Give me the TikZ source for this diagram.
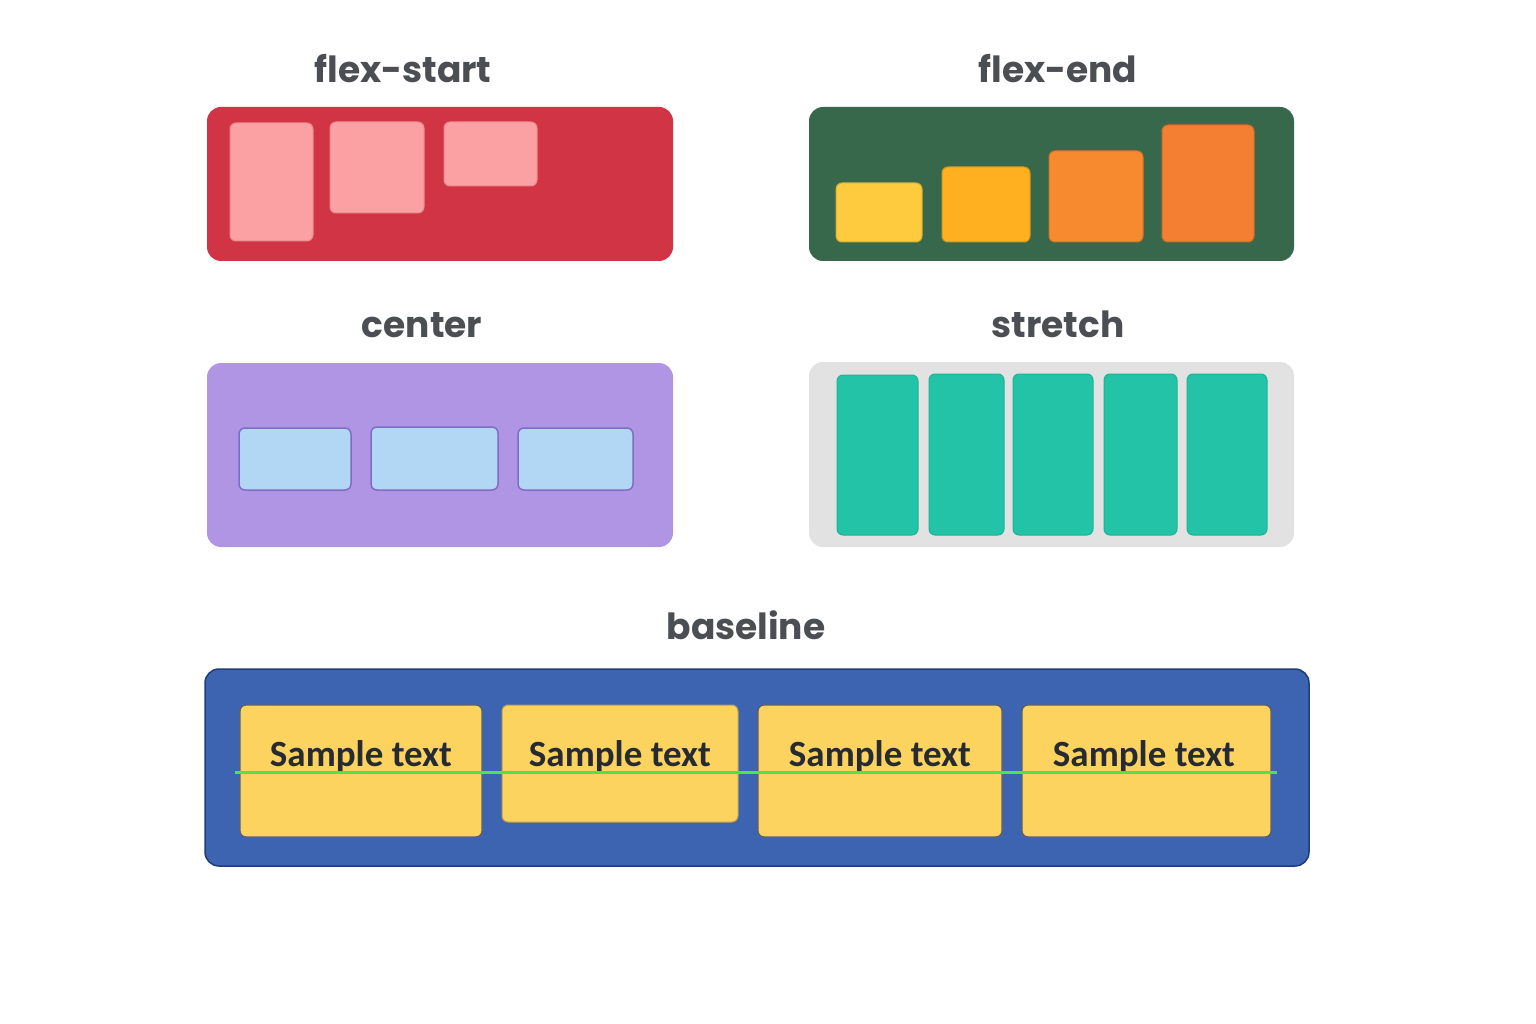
\documentclass[tikz,border=0pt]{standalone}
\usepackage{fontspec}
\setmainfont{Poppins}[BoldFont={* Bold}]
\newfontfamily\samplefont{Carlito}
\usetikzlibrary{fit}
\definecolor{titlegray}{HTML}{4B4E53}
\definecolor{redpanel}{HTML}{D13445}
\definecolor{pinkitem}{HTML}{FCA1A3}
\definecolor{pinkedge}{HTML}{E88A8E}
\definecolor{greenpanel}{HTML}{38684C}
\definecolor{yel1}{HTML}{FECB3E}
\definecolor{yel2}{HTML}{FEB020}
\definecolor{ora1}{HTML}{F78A2E}
\definecolor{ora2}{HTML}{F47F32}
\definecolor{purplepanel}{HTML}{B195E5}
\definecolor{blueitem}{HTML}{B2D7F4}
\definecolor{blueedge}{HTML}{7F6CC4}
\definecolor{graypanel}{HTML}{E2E2E2}
\definecolor{tealitem}{HTML}{22C3A7}
\definecolor{tealedge}{HTML}{1DB394}
\definecolor{bluepanel}{HTML}{3D64B0}
\definecolor{blueborder}{HTML}{1F3E78}
\definecolor{yelitem}{HTML}{FDD35F}
\definecolor{textdark}{HTML}{262B31}
\definecolor{baselinegreen}{HTML}{4FE34A}
\tikzset{
  title/.style={anchor=base, text=titlegray, font=\fontsize{36}{40}\selectfont\bfseries, inner sep=0},
  panel/.style={rounded corners=14pt, inner sep=0},
  item/.style={rounded corners=6pt, inner sep=0, line width=1pt},
  sample/.style={anchor=base, text=textdark, font=\samplefont\fontsize{37}{40}\selectfont\bfseries, inner sep=0},
}
\begin{document}
\begin{tikzpicture}[x=1pt,y=-1pt]
\useasboundingbox[fill=white] (0,0) rectangle (1536,1024);
% titles
\node[title] (t1) at (403,83) {flex-start};
\node[title] (t2) at (1058,83) {flex-end};
\node[title] (t3) at (422,337) {center};
\node[title] (t4) at (1058,337) {stretch};
\node[title] (t5) at (746,639) {baseline};
% flex-start
\node[panel, fill=redpanel, fit={(207,107)(673,261)}] (p1) {};
\node[item, fill=pinkitem, draw=pinkedge, fit={(230,123)(313,241)}] (a1) {};
\node[item, fill=pinkitem, draw=pinkedge, fit={(330,122)(424,213)}] (a2) {};
\node[item, fill=pinkitem, draw=pinkedge, fit={(444,122)(537,186)}] (a3) {};
% flex-end
\node[panel, fill=greenpanel, fit={(809,107)(1294,261)}] (p2) {};
\node[item, fill=yel1, draw=yel1!85!black, fit={(836,183)(922,242)}] (b1) {};
\node[item, fill=yel2, draw=yel2!85!black, fit={(942,167)(1030,242)}] (b2) {};
\node[item, fill=ora1, draw=ora1!85!black, fit={(1049,151)(1143,242)}] (b3) {};
\node[item, fill=ora2, draw=ora2!85!black, fit={(1162,125)(1254,242)}] (b4) {};
% center
\node[panel, fill=purplepanel, fit={(207,363)(673,547)}] (p3) {};
\node[item, fill=blueitem, draw=blueedge, line width=1.5pt, fit={(239,428)(351,490)}] (c1) {};
\node[item, fill=blueitem, draw=blueedge, line width=1.5pt, fit={(371,427)(498,490)}] (c2) {};
\node[item, fill=blueitem, draw=blueedge, line width=1.5pt, fit={(518,428)(633,490)}] (c3) {};
% stretch
\node[panel, fill=graypanel, fit={(809,362)(1294,547)}] (p4) {};
\node[item, fill=tealitem, draw=tealedge, fit={(837,375)(918,535)}] (d1) {};
\node[item, fill=tealitem, draw=tealedge, fit={(929,374)(1004,535)}] (d2) {};
\node[item, fill=tealitem, draw=tealedge, fit={(1013,374)(1093,535)}] (d3) {};
\node[item, fill=tealitem, draw=tealedge, fit={(1104,374)(1177,535)}] (d4) {};
\node[item, fill=tealitem, draw=tealedge, fit={(1187,374)(1267,535)}] (d5) {};
% baseline
\node[panel, fill=bluepanel, draw=blueborder, line width=1.5pt, fit={(205,669)(1309,866)}] (p5) {};
\node[item, fill=yelitem, draw=textdark!75, line width=1.3pt, fit={(240,705)(482,837)}] (e1) {};
\node[item, fill=yelitem, draw=yelitem!75!black, fit={(502,705)(738,822)}] (e2) {};
\node[item, fill=yelitem, draw=textdark!75, line width=1.3pt, fit={(758,705)(1002,837)}] (e3) {};
\node[item, fill=yelitem, draw=textdark!75, line width=1.3pt, fit={(1022,705)(1271,837)}] (e4) {};
\node[sample] (s1) at (361,766) {Sample text};
\node[sample] (s2) at (620,766) {Sample text};
\node[sample] (s3) at (880,766) {Sample text};
\node[sample] (s4) at (1144,766) {Sample text};
\coordinate (gl) at (235,772.5);
\coordinate (gr) at (1277,772.5);
\draw[baselinegreen, line width=3.2pt] (gl) -- (gr);
\end{tikzpicture}
\end{document}
